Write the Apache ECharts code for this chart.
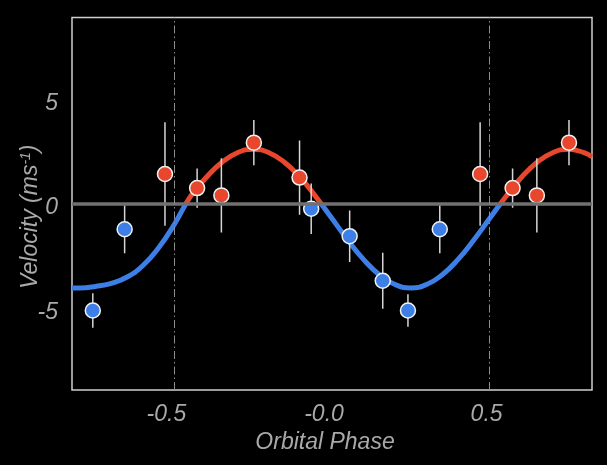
<!DOCTYPE html>
<html><head><meta charset="utf-8">
<script src="https://cdn.jsdelivr.net/npm/echarts@6/dist/echarts.min.js"></script>
<style>html,body{margin:0;padding:0;background:#000;}#c{width:607px;height:465px;}</style>
</head><body><div id="c"></div>
<script>
// ---- data ----
const xTicks = [-0.5, 0, 0.5];
const xTickLabels = ['-0.5', '-0.0', '0.5'];
const yTicks = [-5, 0, 5];
const yTickLabels = ['-5', '0', '5'];
const phaseLines = [-0.5, 0.5];

const obsPhase = [-0.759, -0.658, -0.530, -0.428, -0.351, -0.248, -0.103, -0.066, 0.056, 0.161, 0.241, 0.342, 0.470, 0.573, 0.650, 0.752];
const obsVel   = [-5.10, -1.22, 1.42, 0.75, 0.40, 2.92, 1.25, -0.24, -1.55, -3.68, -5.10, -1.22, 1.42, 0.75, 0.40, 2.92];
const obsErr   = [0.82, 1.15, 2.47, 0.94, 1.77, 1.08, 1.77, 1.21, 1.23, 1.34, 0.78, 1.15, 2.47, 0.94, 1.77, 1.08];

const curvePhase = [-0.825, -0.8, -0.75, -0.7, -0.65, -0.6, -0.55, -0.5, -0.45, -0.4, -0.35, -0.3, -0.25, -0.2, -0.15, -0.1, -0.05, 0, 0.05, 0.1, 0.15, 0.2, 0.25, 0.3, 0.35, 0.4, 0.45, 0.5, 0.55, 0.6, 0.65, 0.7, 0.75, 0.8, 0.825];
const curveVel   = [-4.02, -4.02, -3.95, -3.80, -3.50, -2.95, -2.10, -0.98, 0.33, 1.24, 1.97, 2.44, 2.60, 2.44, 1.97, 1.24, 0.31, -0.71, -1.73, -2.66, -3.39, -3.86, -4.02, -3.86, -3.39, -2.66, -1.73, -0.71, 0.31, 1.24, 1.97, 2.44, 2.60, 2.44, 2.24];

// ---- styling ----
const RED = '#e8462d', BLUE = '#3d7fe6';
const TXT = '#a9a9a9';
const FONT = 'Liberation Sans';

const obs = obsPhase.map((p, i) => [p, obsVel[i], obsErr[i]]);
const redPts = obs.filter(d => d[1] >= 0);
const bluePts = obs.filter(d => d[1] < 0);
const curve = curvePhase.map((p, i) => [p, curveVel[i]]);

const lblStyle = {color: TXT, fontSize: 23, fontStyle: 'italic', fontFamily: FONT};

const chart = echarts.init(document.getElementById('c'), null, {renderer: 'canvas'});
chart.setOption({
  backgroundColor: '#000',
  animation: false,
  grid: {left: 72, right: 15, top: 17.5, bottom: 75, outerBoundsMode: 'none', show: true, borderColor: '#d0d0d0', borderWidth: 1.5, backgroundColor: 'transparent'},
  xAxis: {
    type: 'value', min: -0.825, max: 0.825,
    axisLine: {show: false}, axisTick: {show: false}, splitLine: {show: false},
    axisLabel: Object.assign({
      customValues: xTicks, margin: 13,
      formatter: v => {
        const s = xTickLabels[xTicks.indexOf(v)] ?? '';
        return s.startsWith('-') ? '{neg|' + s + '}' : '{pos|' + s + '}';
      },
      rich: {
        neg: Object.assign({padding: [0, 16, 0, 0]}, lblStyle),
        pos: Object.assign({padding: [0, 6, 0, 0]}, lblStyle)
      }
    }, lblStyle),
    name: 'Orbital Phase', nameLocation: 'middle', nameGap: 41, nameMoveOverlap: false,
    nameTextStyle: Object.assign({padding: [0, 14, 0, 0]}, lblStyle)
  },
  yAxis: {
    type: 'value', min: -8.9, max: 8.9,
    axisLine: {show: false}, axisTick: {show: false}, splitLine: {show: false},
    axisLabel: Object.assign({
      customValues: yTicks, margin: 14,
      formatter: v => '{t|' + (yTickLabels[yTicks.indexOf(v)] ?? '') + '}',
      rich: {t: Object.assign({padding: [8, 0, 0, 0]}, lblStyle)}
    }, lblStyle),
    name: 'Velocity (ms{sup|-1})', nameLocation: 'middle', nameGap: 30, nameRotate: 90, nameMoveOverlap: false,
    nameTextStyle: Object.assign({
      padding: [0, 26, 0, 0],
      rich: {sup: {color: TXT, fontSize: 14, fontStyle: 'italic', fontFamily: FONT, verticalAlign: 'top'}}
    }, lblStyle)
  },
  visualMap: {
    type: 'piecewise', show: false, seriesIndex: 2, dimension: 1,
    pieces: [{gte: -8.9, lt: 0, color: BLUE}, {gte: 0, lte: 8.9, color: RED}]
  },
  series: [
    {
      type: 'line', data: [[0, 0]], z: 1, silent: true, showSymbol: false, lineStyle: {opacity: 0},
      markLine: {
        silent: true, symbol: 'none', label: {show: false},
        lineStyle: {color: '#707070', width: 3.5, type: 'solid'},
        data: [{yAxis: 0}]
      }
    },
    {
      type: 'line', data: [[0, 0]], z: 1, silent: true, showSymbol: false, lineStyle: {opacity: 0},
      markLine: {
        silent: true, symbol: 'none', label: {show: false},
        lineStyle: {color: '#8c8c8c', width: 1, type: [8, 3, 1.5, 3]},
        data: phaseLines.map(p => ({xAxis: p}))
      }
    },
    {
      type: 'line', data: curve, smooth: true, showSymbol: false, z: 2,
      lineStyle: {width: 5}
    },
    {
      type: 'custom', data: obs, z: 3, clip: true,
      renderItem: (params, api) => {
        const x = api.value(0), y = api.value(1), e = api.value(2);
        const a = api.coord([x, y + e]), b = api.coord([x, y - e]);
        return {type: 'line', shape: {x1: a[0], y1: a[1], x2: b[0], y2: b[1]}, style: {stroke: '#d6d6d6', lineWidth: 1.5}};
      }
    },
    {
      type: 'scatter', data: redPts, z: 4, symbol: 'circle', symbolSize: 15,
      itemStyle: {color: RED, borderColor: '#f2f2f2', borderWidth: 1.5, opacity: 1}
    },
    {
      type: 'scatter', data: bluePts, z: 4, symbol: 'circle', symbolSize: 15,
      itemStyle: {color: BLUE, borderColor: '#f2f2f2', borderWidth: 1.5, opacity: 1}
    }
  ]
});
</script>
</body></html>
